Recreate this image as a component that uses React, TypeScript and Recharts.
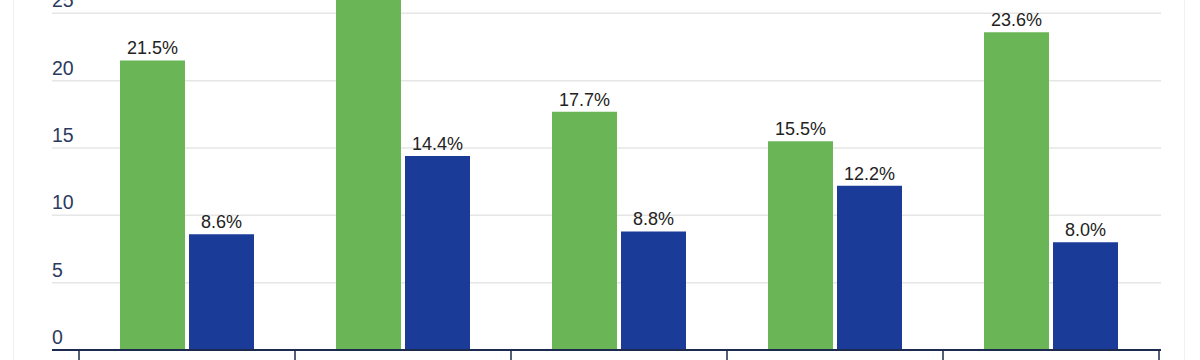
import { BarChart, Bar, XAxis, YAxis, CartesianGrid, LabelList } from 'recharts';

const categories = ['Group A', 'Group B', 'Group C', 'Group D', 'Group E'];
const greenValues = [21.5, 29.0, 17.7, 15.5, 23.6];
const blueValues = [8.6, 14.4, 8.8, 12.2, 8.0];
const yTicks = [0, 5, 10, 15, 20, 25, 30];

const data = categories.map((name, i) => ({ name, green: greenValues[i], blue: blueValues[i] }));

const NAVY = '#1b2a4e';
const FONT = '"Liberation Sans", Arial, sans-serif';

function YTick({ y, payload }: any) {
  return (
    <text x={52} y={y - 6} textAnchor="start" fontSize={19.5} fontFamily={FONT} fill="#2b3a5e">
      {payload.value}
    </text>
  );
}

// category labels sit below the visible crop, so only the boundary tick marks are drawn
function XTick({ x, y, payload, index }: any) {
  const half = payload?.offset ?? 108;
  return (
    <g>
      <line x1={x - half} x2={x - half} y1={y - 8} y2={y + 20} stroke={NAVY} strokeWidth={1.5} />
      {index === categories.length - 1 && (
        <line x1={x + half} x2={x + half} y1={y - 8} y2={y + 20} stroke={NAVY} strokeWidth={1.5} />
      )}
    </g>
  );
}

const fmt = (v: any) => `${Number(v).toFixed(1)}%`;

export default function App() {
  return (
    <div style={{ position: 'fixed', left: 0, top: 0, width: 1200, height: 360, overflow: 'hidden', background: '#fff' }}>
      <div style={{ position: 'absolute', left: 13, top: -2, width: 1170, height: 370, borderLeft: '1px solid #f1f1f1', borderRight: '1px solid #f1f1f1' }} />
      <div style={{ position: 'absolute', left: 0, top: -74 }}>
        <BarChart
          width={1200}
          height={464}
          data={data}
          margin={{ top: 20, right: 39, left: 0, bottom: 0 }}
          barGap={4}
          barSize={65}
        >
          <CartesianGrid vertical={false} stroke="#e6e6e6" strokeWidth={1.5} />
          <XAxis
            dataKey="name"
            height={40}
            padding={{ left: 27, right: 2 }}
            axisLine={{ stroke: NAVY, strokeWidth: 2 }}
            tickLine={false}
            tick={<XTick />}
            interval={0}
          />
          <YAxis
            width={52}
            domain={[0, 30]}
            ticks={yTicks}
            axisLine={false}
            tickLine={false}
            tick={<YTick />}
            interval={0}
          />
          <Bar dataKey="green" fill="#6ab656" isAnimationActive={false}>
            <LabelList dataKey="green" position="top" offset={6} formatter={fmt} fontSize={18} fontFamily={FONT} fill="#222" />
          </Bar>
          <Bar dataKey="blue" fill="#1a3c98" isAnimationActive={false}>
            <LabelList dataKey="blue" position="top" offset={6} formatter={fmt} fontSize={18} fontFamily={FONT} fill="#222" />
          </Bar>
        </BarChart>
      </div>
    </div>
  );
}
